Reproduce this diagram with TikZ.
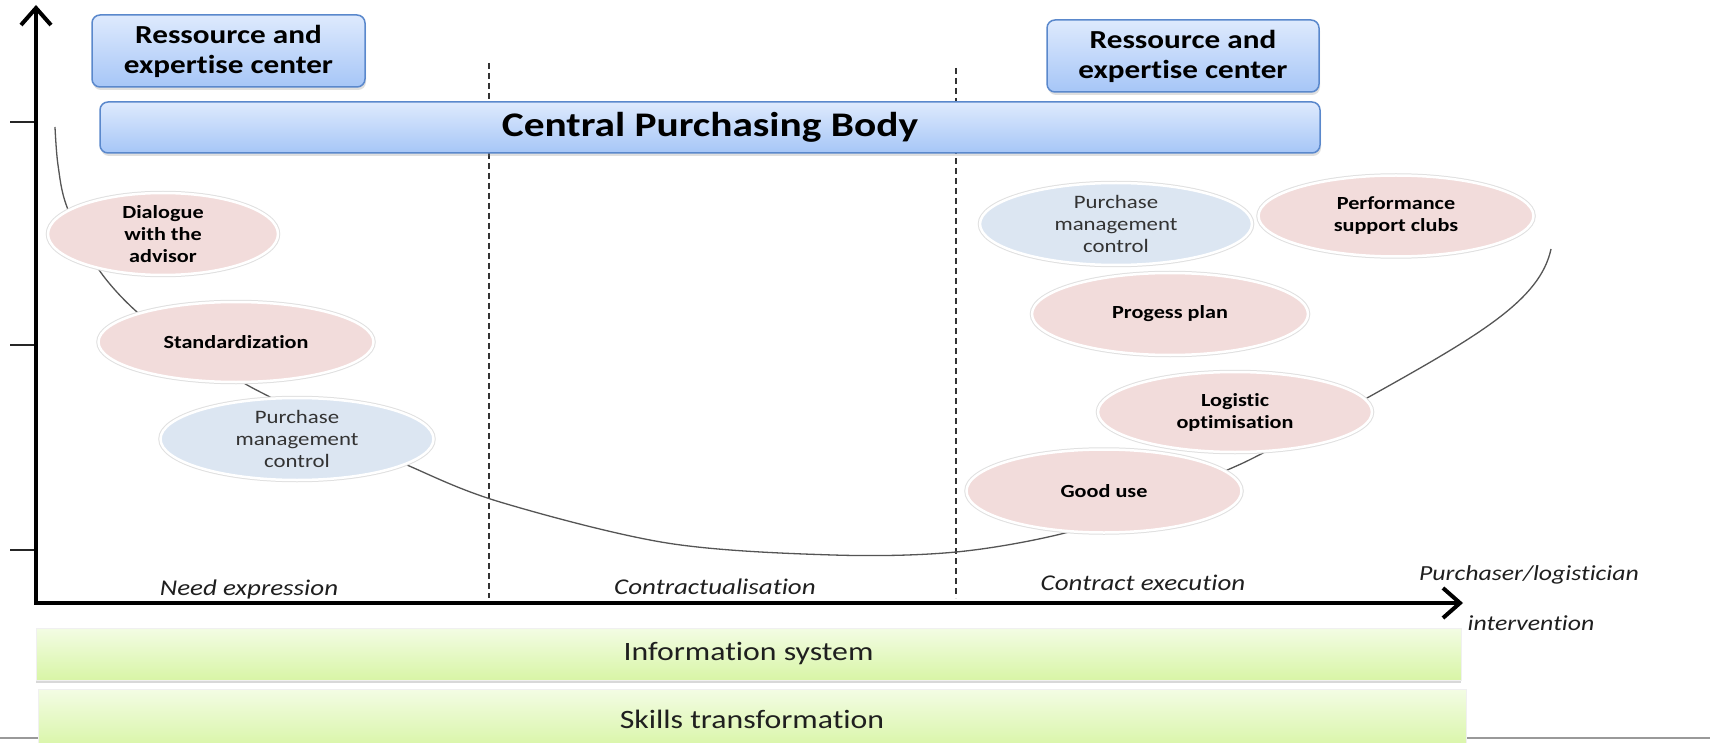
\documentclass[tikz,border=0pt]{standalone}
\usepackage{fontspec}
\setmainfont{Carlito}[FakeStretch=1.2,Ligatures={NoCommon}]
\usetikzlibrary{shapes.geometric,arrows.meta,shadows}
\definecolor{boxtop}{HTML}{DEEAFD}
\definecolor{boxbot}{HTML}{A6C6F7}
\definecolor{boxline}{HTML}{5A88CC}
\definecolor{pinkfill}{HTML}{F2DCDB}
\definecolor{bluefill}{HTML}{DCE6F2}
\definecolor{greentop}{HTML}{F3FCE4}
\definecolor{greenbot}{HTML}{D8F5A6}
\definecolor{curvecol}{HTML}{555555}
\definecolor{txtgray}{HTML}{333333}
\begin{document}
\begin{tikzpicture}[x=1pt,y=-1pt,
  bluebox/.style={rectangle, rounded corners=8pt, draw=boxline, line width=1.5pt,
    top color=boxtop, bottom color=boxbot,
    drop shadow={opacity=0.25,shadow xshift=1pt,shadow yshift=-3pt},
    inner sep=0pt, align=center},
  oval/.style={ellipse, inner sep=0pt, align=center, draw=white, line width=2.5pt,
    preaction={draw=black!12, line width=4.5pt}},
  pinkoval/.style={oval, fill=pinkfill, font=\fontsize{18.5}{22}\selectfont\bfseries, text=black},
  blueoval/.style={oval, fill=bluefill, font=\fontsize{19}{22}\selectfont, text=txtgray},
  greenbar/.style={rectangle, inner sep=0pt, top color=greentop, bottom color=greenbot,
    draw=black!6, line width=0.8pt,
    drop shadow={opacity=0.3,shadow xshift=0pt,shadow yshift=-2.5pt},
    font=\fontsize{26.5}{30}\selectfont, text=black!88},
  phase/.style={inner sep=0pt, font=\fontsize{22.5}{26}\selectfont\itshape, text=black!88},
  dashline/.style={draw=black!80, line width=2pt, dash pattern=on 6pt off 4pt},
  axis/.style={line width=4pt, line join=miter},
  tick/.style={line width=1.5pt, draw=black!85},
]
\useasboundingbox[fill=white] (0,0) rectangle (1710,743);

% bottom gray line
\draw[black!40, line width=2pt] (0,738) -- (1710,738);

% ticks
\draw[tick] (10,122) -- (36,122);
\draw[tick] (10,345) -- (36,345);
\draw[tick] (10,550) -- (36,550);

% dashed phase separators
\coordinate (d1top) at (489,63);
\coordinate (d1bot) at (489,598);
\coordinate (d2top) at (956,68);
\coordinate (d2bot) at (956,598);
\draw[dashline] (d1top) -- (d1bot);
\draw[dashline] (d2top) -- (d2bot);

% curve
\draw[curvecol, line width=1.3pt] plot[smooth, tension=0.55] coordinates {
  (55,127) (58,165) (67,207) (97,267) (137,312) (190,350) (242,382) (270,397)
  (340,433) (407,465) (500,502) (667,543) (833,555) (956,552)
  (1065,533) (1150,503) (1225,471) (1263,453) (1367,398)}
  .. controls (1480,335) and (1540,300) .. (1551,249);

% axes
\coordinate (ytip) at (36,5);
\coordinate (O) at (36,603);
\coordinate (xtip) at (1463,603);
\draw[axis, {Straight Barb[length=17pt,width=30pt]}-{Straight Barb[length=17pt,width=30pt]}]
  (ytip) -- (O) -- (xtip);

% top boxes
\node[bluebox, minimum width=273pt, minimum height=72pt,
  font=\fontsize{26}{30}\selectfont\bfseries] (rec1) at (228.5,51)
  {Ressource and\\expertise center};
\node[bluebox, minimum width=272pt, minimum height=72pt,
  font=\fontsize{26}{30}\selectfont\bfseries] (rec2) at (1183,56)
  {Ressource and\\expertise center};
\node[bluebox, minimum width=1220pt, minimum height=51pt,
  font=\fontsize{34.5}{40}\selectfont\bfseries] (cpb) at (710,127.5)
  {Central Purchasing Body};

% ellipses
\node[pinkoval, minimum width=230pt, minimum height=82pt] (dia) at (163,234)
  {Dialogue\\with the\\advisor};
\node[pinkoval, minimum width=275pt, minimum height=80pt] (std) at (236,342)
  {Standardization};
\node[blueoval, minimum width=273pt, minimum height=82pt] (pmcl) at (297,439)
  {Purchase\\management\\control};
\node[blueoval, minimum width=272pt, minimum height=82pt] (pmcr) at (1116,224)
  {Purchase\\management\\control};
\node[pinkoval, minimum width=275pt, minimum height=81pt] (perf) at (1396,216)
  {Performance\\support clubs};
\node[pinkoval, minimum width=276pt, minimum height=82pt] (prog) at (1170,314)
  {Progess plan};
\node[pinkoval, minimum width=274pt, minimum height=80pt] (logi) at (1235,412)
  {Logistic\\optimisation};
\node[pinkoval, minimum width=275pt, minimum height=83pt] (good) at (1104,491)
  {Good use};

% phase labels
\node[phase] (ph1) at (249,589) {Need expression};
\node[phase] (ph2) at (715,587) {Contractualisation};
\node[phase] (ph3) at (1143,583) {Contract execution};
\node[phase, font=\fontsize{21.5}{26}\selectfont\itshape] (xl1) at (1529,575) {Purchaser/logistician};
\node[phase, font=\fontsize{21.5}{26}\selectfont\itshape] (xl2) at (1531,623) {intervention};

% green bars
\node[greenbar, minimum width=1425pt, minimum height=52pt] (info) at (748.5,654)
  {Information system};
\node[greenbar, minimum width=1428pt, minimum height=60pt] (skills) at (752,719)
  {Skills transformation};
\end{tikzpicture}
\end{document}
